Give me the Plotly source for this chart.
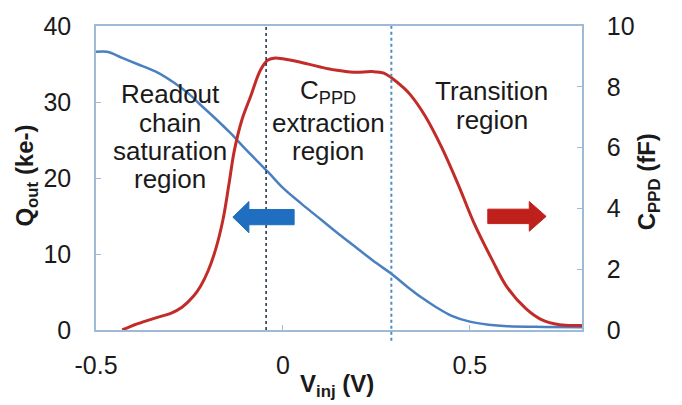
import plotly.graph_objects as go

# Output charge Q_out (ke-) versus injection voltage V_inj (V)
v_q = [-0.50, -0.47, -0.43, -0.39, -0.34, -0.29, -0.25, -0.22, -0.18, -0.14,
       -0.10, -0.04, 0.00, 0.05, 0.10, 0.15, 0.20, 0.25, 0.29, 0.33, 0.37,
       0.41, 0.45, 0.50, 0.55, 0.60, 0.70, 0.80]
q_out = [36.6, 36.6, 35.8, 35.0, 34.0, 32.5, 31.0, 29.6, 27.8, 25.9,
         23.8, 20.8, 18.7, 16.6, 14.6, 12.6, 10.7, 8.8, 7.4, 5.8, 4.3,
         3.0, 1.9, 1.1, 0.7, 0.5, 0.4, 0.35]

# Extracted pinned-photodiode capacitance C_PPD (fF)
v_c = [-0.43, -0.39, -0.34, -0.30, -0.27, -0.24, -0.22, -0.20, -0.18, -0.16,
       -0.145, -0.13, -0.11, -0.086, -0.06, -0.04, -0.02, 0.00, 0.05, 0.10,
       0.14, 0.19, 0.24, 0.27, 0.29, 0.32, 0.34, 0.38, 0.425, 0.47, 0.51,
       0.56, 0.60, 0.65, 0.69, 0.74, 0.80]
c_ppd = [0.0, 0.2, 0.4, 0.55, 0.75, 1.1, 1.45, 1.95, 2.65, 3.65,
         4.75, 5.9, 6.9, 7.7, 8.55, 8.88, 8.95, 8.92, 8.8, 8.65,
         8.55, 8.48, 8.5, 8.45, 8.3, 8.0, 7.75, 7.05, 6.0, 4.75, 3.55,
         2.3, 1.4, 0.7, 0.35, 0.17, 0.15]

# Region boundaries (V)
bound_lo = -0.045
bound_hi = 0.29

x_ticks = [-0.5, 0, 0.5]
x_tick_text = ["-0.5", "0", "0.5"]
q_ticks = [0, 10, 20, 30, 40]
c_ticks = [0, 2, 4, 6, 8, 10]

FONT = "Liberation Sans, Arial, sans-serif"
TXT = "#1a1a1a"
AXIS = "#9dbbd6"

fig = go.Figure()
fig.add_trace(go.Scatter(x=v_q, y=q_out, mode="lines", yaxis="y",
                         line=dict(color="#4a80c0", width=2.5, shape="spline"),
                         showlegend=False))
fig.add_trace(go.Scatter(x=v_c, y=c_ppd, mode="lines", yaxis="y2",
                         line=dict(color="#c22c28", width=3, shape="spline"),
                         showlegend=False))

# Region boundaries
fig.add_shape(type="line", xref="x", yref="paper", x0=bound_lo, x1=bound_lo,
              y0=0, y1=1, line=dict(color="#1c2a44", width=1.5, dash="dot"))
fig.add_shape(type="line", xref="x", yref="paper", x0=bound_hi, x1=bound_hi,
              y0=-0.035, y1=1, line=dict(color="#4d8fc0", width=2, dash="dot"))


def block_arrow(tip, base, end, yc, head_h, body_h):
    """Path for a horizontal block arrow (coordinates on x / left-y axes)."""
    return (f"M {tip},{yc} L {base},{yc + head_h} L {base},{yc + body_h} "
            f"L {end},{yc + body_h} L {end},{yc - body_h} L {base},{yc - body_h} "
            f"L {base},{yc - head_h} Z")


fig.add_shape(type="path", xref="x", yref="y",
              path=block_arrow(-0.134, -0.091, 0.030, 14.85, 2.05, 1.0),
              fillcolor="#1f6ebf", line=dict(color="#1f6ebf", width=1))
fig.add_shape(type="path", xref="x", yref="y",
              path=block_arrow(0.704, 0.659, 0.548, 14.95, 1.95, 0.95),
              fillcolor="#c0201c", line=dict(color="#c0201c", width=1))

# Region labels
labels = [
    ("Readout", -0.301, 85), ("chain", -0.301, 115),
    ("saturation", -0.301, 145), ("region", -0.301, 174),
    ("C<sub>PPD</sub>", 0.121, 83), ("extraction", 0.121, 116),
    ("region", 0.121, 145),
    ("Transition", 0.559, 82), ("region", 0.559, 112),
]
for text, xv, ypx in labels:
    fig.add_annotation(x=xv, xref="x", y=(330 - ypx) / 315, yref="paper",
                       text=text, showarrow=False, xanchor="center",
                       yanchor="middle",
                       font=dict(family=FONT, size=26, color=TXT))

# Axis titles
title_font = dict(family=FONT, size=24, color=TXT)
fig.add_annotation(x=-0.142, y=0.508, xref="paper", yref="paper",
                   xanchor="center", yanchor="middle",
                   text="<b>Q<sub>out</sub> (ke-)</b>", textangle=-90,
                   showarrow=False, font=title_font)
fig.add_annotation(x=1.136, y=0.486, xref="paper", yref="paper",
                   xanchor="center", yanchor="middle",
                   text="<b>C<sub>PPD</sub> (fF)</b>", textangle=-90,
                   showarrow=False, font=title_font)
fig.add_annotation(x=0.496, y=-0.181, xref="paper", yref="paper",
                   xanchor="center", yanchor="middle",
                   text="<b>V<sub>inj</sub> (V)</b>",
                   showarrow=False, font=title_font)

fig.update_layout(
    width=682, height=405,
    margin=dict(l=96, r=100, t=15, b=75),
    plot_bgcolor="white", paper_bgcolor="white",
    font=dict(family=FONT, size=25, color=TXT),
    xaxis=dict(range=[-0.5, 0.8], tickvals=x_ticks, ticktext=x_tick_text,
               showgrid=False, zeroline=False, showline=True, mirror=True,
               linecolor=AXIS, linewidth=1.5, ticks="inside", ticklen=5,
               tickcolor=AXIS, ticklabelstandoff=12),
    yaxis=dict(range=[0, 40], tickvals=q_ticks, showgrid=False,
               zeroline=False, showline=True, linecolor=AXIS, linewidth=1.5,
               ticks="inside", ticklen=5, tickcolor=AXIS,
               ticklabelstandoff=18),
    yaxis2=dict(range=[0, 10], tickvals=c_ticks, overlaying="y", side="right",
                showgrid=False, zeroline=False, showline=True,
                linecolor=AXIS, linewidth=1.5, ticks="inside", ticklen=5,
                tickcolor=AXIS, ticklabelstandoff=18),
)

fig.write_html("out.html")
